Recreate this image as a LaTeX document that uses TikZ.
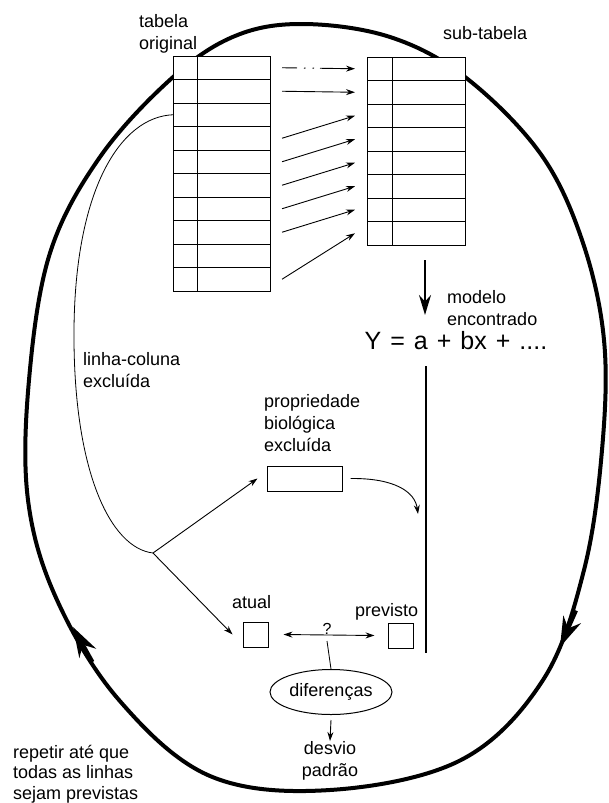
\documentclass[tikz,border=0pt]{standalone}
\usepackage{fontspec}
\setmainfont{Liberation Sans}
\usetikzlibrary{arrows.meta,shapes.geometric}
\begin{document}
\begin{tikzpicture}[x=1pt,y=-1pt,
  txt/.style={inner sep=0pt, font=\fontsize{18}{22}\selectfont, align=left},
  bigloop/.style={line width=4pt, line join=round, line cap=round},
  looptip/.style={line width=4pt, -{Stealth[length=30pt,width=19pt]}},
  rowcell/.style={draw, fill=white, line width=1pt, minimum height=23.5pt, inner sep=0pt, outer sep=0pt},
  tarrow/.style={line width=0.9pt, -{Stealth[length=9pt,width=6pt]}},
  dblarrow/.style={line width=0.9pt, {Stealth[length=9pt,width=6pt]}-{Stealth[length=9pt,width=6pt]}},
  bigarrow/.style={line width=2pt, -{Stealth[length=20pt,width=12pt]}},
  thinline/.style={line width=0.8pt},
  smallbox/.style={draw, line width=1pt, minimum width=25pt, minimum height=25pt, inner sep=0pt},
]
\fill[white] (0,0) rectangle (608,803);
\useasboundingbox (0,0) rectangle (608,803);

% big loop
\draw[bigloop] plot[smooth cycle, tension=0.6] coordinates {
  (303,24) (390,37) (465,77) (540,153) (582,240) (604,340) (602,450)
  (584,570) (543,680) (461,760) (330,790) (210,776) (119,700) (57,600)
  (28,500) (29,380) (50,253) (100,157) (172,78) (235,36)};
\coordinate (la) at (92.5,662);
\coordinate (lb) at (73,627);
\coordinate (ra) at (576,610.5);
\coordinate (rb) at (560,647);
\draw[looptip] (la) -- (lb);
\draw[looptip] (ra) -- (rb);

% left table
\foreach \i in {1,...,10}
  \node[rowcell, minimum width=97pt] (L\i) at (221.5,{56+23.5*(\i-0.5)}) {};
\draw[line width=1pt] ([xshift=24pt]L1.north west) -- ([xshift=24pt]L10.south west);
% right table
\foreach \j in {1,...,8}
  \node[rowcell, minimum width=98pt] (R\j) at (416,{57+23.5*(\j-0.5)}) {};
\draw[line width=1pt] ([xshift=25pt]R1.north west) -- ([xshift=25pt]R8.south west);

\node[txt, anchor=north west] (tab) at (139,14) {tabela\\original};
\node[txt, anchor=base west] (sub) at (443,39) {sub-tabela};

% arrows between tables
\draw[line width=0.9pt, dash pattern={on 15pt off 7pt on 1.5pt off 7pt on 1.5pt off 6pt on 60pt}, -{Stealth[length=9pt,width=6pt]}]
  ([xshift=12pt]L1.east) -- ([xshift=-12pt]R1.west);
\foreach \a/\b in {2/2,4/3,5/4,6/5,7/6,8/7,10/8}
  \draw[tarrow] ([xshift=12pt]L\a.east) -- ([xshift=-12pt]R\b.west);

% model
\coordinate (mtop) at (425,260);
\coordinate (mtip) at (425,315);
\draw[bigarrow] (mtop) -- (mtip);
\node[txt, anchor=north west] (mod) at (447,290) {modelo\\encontrado};
\node[inner sep=0pt, anchor=base, font=\fontsize{25}{30}\selectfont] (Y) at (456,349)
  {\spaceskip=9pt Y = a + bx + ....};
\coordinate (vt) at (426,366);
\coordinate (vb) at (426,653);
\draw[line width=1.2pt] (vt) -- (vb);

% excluded row/column curve
\node[txt, anchor=north west] (lc) at (83,352) {linha-coluna\\excluída};
\coordinate (J) at (153,553);
\draw[thinline] (L3.west) .. controls (120,117) and (75,190) .. (74,330)
  .. controls (73,470) and (110,548) .. (J);

% biological property
\node[txt, anchor=north west] (pbl) at (264,394) {propriedade\\biológica\\excluída};
\node[draw, line width=1pt, minimum width=75pt, minimum height=25pt, inner sep=0pt] (prop) at (304.5,478.5) {};
\draw[tarrow] (J) -- ([xshift=-9pt]prop.west);
\coordinate (pe) at (418,514);
\draw[tarrow] ([xshift=8pt]prop.east) .. controls (395,478) and (415,492) .. (pe);

% actual / predicted
\node[smallbox] (at) at (255.5,634.5) {};
\node[smallbox] (pv) at (400.5,635.5) {};
\node[txt, anchor=base west] (atl) at (232,608) {atual};
\node[txt, anchor=base west] (pvl) at (355,616) {previsto};
\draw[tarrow] (J) -- ([xshift=-10pt]at.west);
\draw[dblarrow] ([xshift=15pt]at.east) -- ([xshift=-13pt]pv.west);
\node[inner sep=0pt, anchor=base, font=\fontsize{16}{18}\selectfont] (q) at (327,634) {?};
\coordinate (qs) at (327,641);

\node[ellipse, draw, line width=1pt, minimum width=122pt, minimum height=45pt, inner sep=0pt,
  font=\fontsize{18}{22}\selectfont] (dif) at (331,692) {diferenças};
\draw[thinline] (qs) -- (dif.north);
\node[txt, align=center, anchor=north] (dp) at (330,741) {desvio\\padrão};
\draw[tarrow] ([yshift=-5pt]dif.south) -- (dp.north);

\node[inner sep=0pt, anchor=north west, align=left, font=\fontsize{18}{20.5}\selectfont] (rep) at (13,745)
  {repetir até que\\todas as linhas\\sejam previstas};
\end{tikzpicture}
\end{document}
